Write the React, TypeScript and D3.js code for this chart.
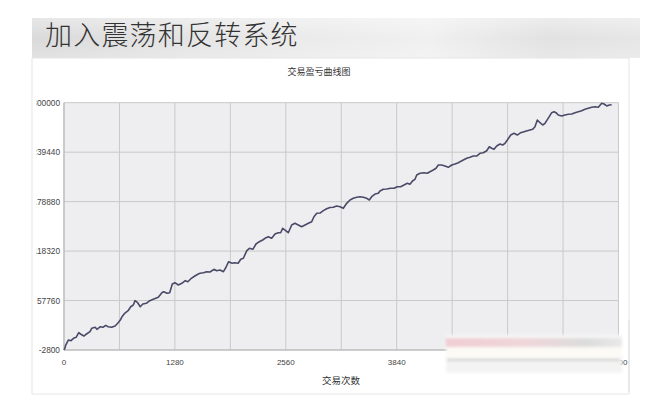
import React from "react";
import * as d3 from "d3";

const pageTitle = "加入震荡和反转系统";
const chartTitle = "交易盈亏曲线图";
const xAxisTitle = "交易次数";
const yTicks = [-2800, 57760, 118320, 178880, 239440, 300000];
const xLabelTicks = [0, 1280, 2560, 3840, 5120, 6400];
const xGridTicks = [0, 640, 1280, 1920, 2560, 3200, 3840, 4480, 5120, 5760, 6400];

const trades = [
  10, 20, 50, 80, 110, 140, 170, 190, 230, 260, 300, 320, 360, 380, 420, 450, 480, 510, 550, 590,
  620, 650, 670, 700, 740, 770, 800, 820, 850, 880, 910, 950, 990, 1030, 1088, 1130, 1150, 1190, 1220, 1250,
  1280, 1320, 1360, 1400, 1430, 1470, 1510, 1550, 1570, 1610, 1647, 1685, 1731, 1762, 1800, 1840, 1870, 1900, 1940, 1970,
  2010, 2040, 2070, 2110, 2140, 2180, 2216, 2254, 2293, 2320, 2358, 2397, 2435, 2473, 2501, 2524, 2551, 2589, 2628, 2666,
  2704, 2743, 2782, 2820, 2859, 2885, 2917, 2955, 2993, 3032, 3070, 3108, 3147, 3186, 3224, 3263, 3301, 3339, 3378, 3416,
  3455, 3494, 3524, 3551, 3590, 3628, 3647, 3685, 3725, 3771, 3809, 3847, 3886, 3924, 3962, 3993, 4025, 4051, 4071, 4109,
  4155, 4193, 4224, 4262, 4294, 4320, 4359, 4397, 4436, 4475, 4513, 4551, 4571, 4609, 4648, 4686, 4724, 4763, 4801, 4840,
  4879, 4909, 4936, 4963, 4994, 5032, 5063, 5090, 5117, 5156, 5194, 5232, 5271, 5309, 5347, 5379, 5410, 5436, 5463, 5494,
  5525, 5552, 5571, 5601, 5629, 5656, 5679, 5705, 5744, 5782, 5821, 5860, 5898, 5936, 5975, 6013, 6052, 6091, 6129, 6167,
  6206, 6233, 6264, 6294, 6321,
];

const equity = [
  -700, 3300, 9400, 8600, 11500, 12700, 18400, 16800, 14300, 16800, 19600, 23800, 25000, 22500, 25700, 25000, 27400, 25700, 25000, 26600,
  29900, 33900, 38000, 42100, 45300, 50200, 52300, 57600, 55100, 50200, 53500, 54400, 57600, 59300, 61700, 67400, 68600, 66600, 67400, 78000,
  79600, 76800, 78900, 82100, 80800, 85000, 87800, 90300, 91100, 91800, 93100, 92700, 96000, 94300, 95200, 93100, 98500, 105300, 103400, 104100,
  103400, 108300, 109500, 118800, 121700, 120500, 127000, 129800, 131900, 134000, 135900, 134000, 139200, 140800, 140800, 146200, 144100, 140800, 150300, 152300,
  150300, 148200, 150300, 152300, 154300, 160400, 164600, 164900, 167800, 170100, 171700, 171900, 173500, 172700, 170700, 176800, 180900, 182900, 184200, 184900,
  184200, 182900, 180900, 184900, 188200, 189100, 191900, 194000, 194300, 195200, 195200, 197100, 197100, 199200, 201300, 200100, 204500, 206200, 211500, 213600,
  214300, 213600, 215500, 217600, 219700, 223700, 223700, 222500, 220900, 223700, 224900, 226500, 227800, 229800, 231900, 233100, 234700, 234700, 238000, 238800,
  241200, 246100, 244200, 242900, 247000, 249400, 248200, 250300, 254300, 260400, 262500, 260400, 263300, 264500, 265700, 266600, 267400, 270600, 278800, 275500,
  272700, 274800, 278000, 282900, 287800, 289000, 287800, 284900, 283700, 284900, 285800, 286200, 287800, 289000, 290200, 291900, 293100, 294400, 295100, 294400,
  299300, 298400, 296000, 297200, 297500,
];

export default function App() {
  const W = 656;
  const H = 408;
  const left = 64;
  const right = 618.5;
  const top = 102.7;
  const bottom = 350;

  const x = d3.scaleLinear().domain([0, 6400]).range([left, right]);
  const y = d3.scaleLinear().domain([-2800, 300000]).range([bottom, top]);

  const data = trades.map((t, i) => [t, equity[i]] as [number, number]);
  const line = d3
    .line<[number, number]>()
    .x((d) => x(d[0]))
    .y((d) => y(d[1]));
  const pathD = line([[0, -2800], ...data]) || "";

  const font = "'Liberation Sans', Arial, sans-serif";
  const cjk = "'Noto Sans CJK SC', 'Noto Sans', sans-serif";

  return (
    <svg
      width={W}
      height={H}
      viewBox={`0 0 ${W} ${H}`}
      style={{ position: "absolute", left: 0, top: 0, background: "#ffffff" }}
    >
      <defs>
        <linearGradient id="hdr" x1="0" x2="1" y1="0" y2="0">
          <stop offset="0" stopColor="#dadada" />
          <stop offset="0.25" stopColor="#e4e4e4" />
          <stop offset="0.5" stopColor="#ececec" />
          <stop offset="0.65" stopColor="#f0f0f0" />
          <stop offset="0.85" stopColor="#e2e2e2" />
          <stop offset="1" stopColor="#e6e6e6" />
        </linearGradient>
        <linearGradient id="hdrV" x1="0" x2="0" y1="0" y2="1">
          <stop offset="0" stopColor="#ffffff" stopOpacity="0.35" />
          <stop offset="0.5" stopColor="#ffffff" stopOpacity="0" />
          <stop offset="1" stopColor="#ffffff" stopOpacity="0.2" />
        </linearGradient>
        <linearGradient id="pink" x1="0" x2="1" y1="0" y2="0">
          <stop offset="0" stopColor="#f0cdd2" />
          <stop offset="0.45" stopColor="#efd6d9" />
          <stop offset="0.8" stopColor="#dcdcdc" />
          <stop offset="1" stopColor="#e8e8e8" />
        </linearGradient>
        <filter id="blur" x="-10%" y="-30%" width="120%" height="160%">
          <feGaussianBlur stdDeviation="1.5" />
        </filter>
        <clipPath id="ylabClip">
          <rect x={36.5} y={0} width={40} height={H} />
        </clipPath>
      </defs>

      {/* header band */}
      <rect x={32} y={18} width={608} height={40} fill="url(#hdr)" />
      <rect x={32} y={18} width={608} height={40} fill="url(#hdrV)" />
      <text
        x={45}
        y={45}
        fontFamily={cjk}
        fontSize={27}
        fontWeight={300}
        fill="#333333"
        letterSpacing={1.2}
      >
        {pageTitle}
      </text>

      {/* panel */}
      <rect x={32} y={58} width={597} height={336} fill="#ffffff" stroke="#e6e6e6" strokeWidth={1} />

      {/* chart title */}
      <text x={319} y={75} textAnchor="middle" fontFamily={cjk} fontSize={9} fill="#333">
        {chartTitle}
      </text>

      {/* plot area */}
      <rect x={left} y={top} width={right - left} height={bottom - top} fill="#eeeef0" />

      {xGridTicks.map((t) => (
        <line key={"gx" + t} x1={x(t)} x2={x(t)} y1={top} y2={bottom} stroke="#c9c9c9" strokeWidth={1} />
      ))}
      {yTicks.map((t) => (
        <line key={"gy" + t} x1={left} x2={right} y1={y(t)} y2={y(t)} stroke="#c9c9c9" strokeWidth={1} />
      ))}
      <line x1={left} x2={left} y1={top} y2={bottom} stroke="#b5b5b5" />
      <line x1={left} x2={right} y1={bottom} y2={bottom} stroke="#b5b5b5" />

      {/* y tick labels (clipped on the left like the reference) */}
      <g clipPath="url(#ylabClip)">
        {yTicks.map((t) => (
          <text
            key={"yl" + t}
            x={left - 4}
            y={y(t) + 3}
            textAnchor="end"
            fontFamily={font}
            fontSize={8.3}
            fill="#444"
          >
            {t}
          </text>
        ))}
      </g>

      {/* x tick labels */}
      {xLabelTicks.map((t) => (
        <text
          key={"xl" + t}
          x={x(t)}
          y={365}
          textAnchor="middle"
          fontFamily={font}
          fontSize={8}
          fill="#444"
        >
          {t}
        </text>
      ))}

      <text x={341} y={384} textAnchor="middle" fontFamily={cjk} fontSize={9.5} fill="#333">
        {xAxisTitle}
      </text>

      {/* equity curve */}
      <path d={pathD} fill="none" stroke="#4a4a68" strokeWidth={1.6} strokeLinejoin="round" />

      {/* watermark overlay in bottom right */}
      <g filter="url(#blur)">
        <rect x={446} y={335} width={176} height={38} fill="#f7f7f7" />
        <rect x={446} y={338} width={176} height={9} fill="url(#pink)" />
        <rect x={446} y={347} width={176} height={11} fill="#fbfaf5" />
        <line x1={447} x2={620} y1={360} y2={360} stroke="#9a9a9a" strokeWidth={1.2} />
        <rect x={446} y={362} width={176} height={10} fill="#f3f3f3" />
      </g>
      <line x1={629} x2={629} y1={320} y2={392} stroke="#dddddd" />
    </svg>
  );
}
